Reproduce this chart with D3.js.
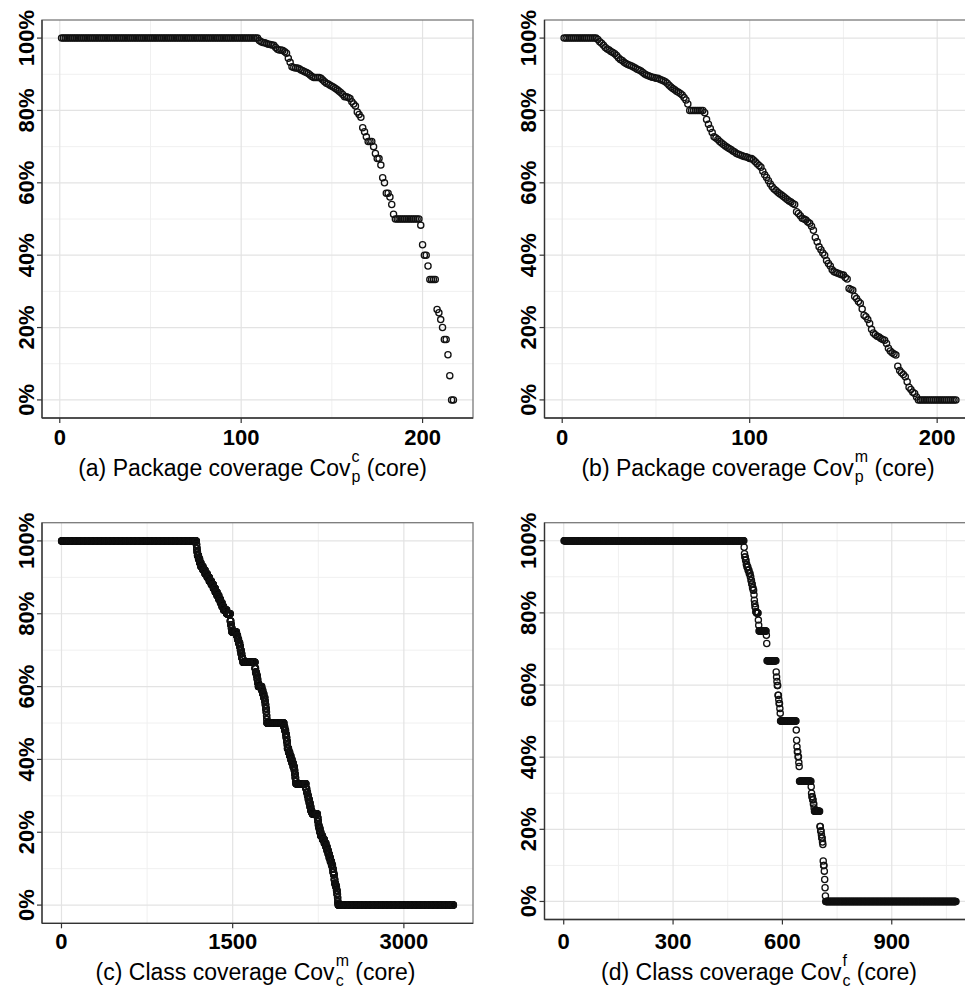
<!DOCTYPE html>
<html>
<head>
<meta charset="utf-8">
<script src="https://cdn.jsdelivr.net/npm/d3@7"></script>
<style>
  body { margin: 0; background: #fff; }
  svg { display: block; font-family: "Liberation Sans", Arial, Helvetica, sans-serif; }
</style>
</head>
<body>
<script>
// coverage values (%), sorted, as [value, number of points]
var covA = [
  [100,109],[99.3,1],[99,1],[98.8,1],[98.7,1],[98.5,1],[98.3,1],[98.2,1],[98.1,1],[98,1],
  [97.4,1],[96.9,1],[96.7,2],[96.6,1],[96.2,1],[95.8,1],[94.4,1],[93.3,1],[92.1,1],[91.9,1],
  [91.7,2],[91.5,1],[91.2,1],[91,1],[90.7,1],[90.5,1],[90.2,1],[89.8,1],[89.4,1],[89.1,4],
  [88.9,1],[88.4,1],[87.9,1],[87.5,1],[87.3,1],[87,1],[86.7,1],[86.4,1],[86.1,1],[85.7,1],
  [85.3,1],[84.9,1],[84.4,1],[83.8,2],[83.6,1],[83.3,1],[82.4,1],[81.8,1],[81.2,1],[79.6,1],
  [78.9,1],[78.1,1],[75.2,1],[74.1,1],[72.7,1],[71.4,3],[70,1],[68.1,1],[66.7,2],[64.9,1],
  [61.4,1],[60,1],[57.1,2],[56.1,1],[54,1],[51.3,1],[50,14],[48.3,1],[42.9,1],[40,2],
  [37,1],[33.3,4],[25,1],[24.1,1],[22.2,1],[20,1],[16.7,2],[12.5,1],[6.7,1],[0,2]
];
var covB = [
  [100,18],[99.6,1],[99,1],[98.6,1],[98,1],[97.4,1],[97,1],[96.7,1],[96.3,1],[96,1],
  [95.7,1],[95.2,1],[94.6,1],[94.1,1],[93.8,1],[93.3,1],[93,1],[92.7,1],[92.5,1],[92.3,1],
  [92,1],[91.7,1],[91.4,1],[91.2,1],[90.9,1],[90.5,1],[90.1,1],[89.8,1],[89.6,1],[89.4,1],
  [89.2,1],[89.1,1],[88.9,2],[88.6,1],[88.4,1],[88.2,1],[87.9,1],[87.5,1],[87,1],[86.5,1],
  [86.1,1],[85.7,1],[85.3,1],[85,1],[84.7,1],[84.3,1],[83.6,1],[82.9,1],[81.8,1],[80,8],
  [79.4,1],[77.5,1],[76.2,1],[75,1],[73.9,1],[72.7,1],[72.4,1],[72,1],[71.4,1],[71,1],
  [70.6,1],[70.2,1],[69.8,1],[69.5,1],[69.2,1],[68.8,1],[68.5,1],[68.1,1],[67.9,1],[67.7,1],
  [67.5,1],[67.3,1],[67.2,1],[67,1],[66.7,2],[66.3,1],[65.8,1],[65.3,1],[64.8,1],[64.3,1],
  [63.2,1],[62.2,1],[61.5,1],[60.6,1],[59.7,1],[58.9,1],[58.3,1],[57.9,1],[57.4,1],[57,1],
  [56.6,1],[56.2,1],[55.8,1],[55.4,1],[55,1],[54.7,1],[54.3,1],[54,1],[52,1],[51.5,1],
  [50.9,1],[50.2,1],[50,1],[49.7,1],[49.2,1],[48.8,1],[48,1],[46.9,1],[44.9,1],[43.7,1],
  [42.3,1],[41.5,1],[40.6,1],[40,1],[38.5,1],[37.7,1],[37,1],[36,1],[35.4,1],[35.2,1],
  [35,1],[34.8,1],[34.6,1],[34.5,1],[33.8,1],[33.4,1],[30.8,1],[30.5,1],[30.3,1],[28.6,1],
  [28,1],[27.2,1],[26.7,1],[25.1,1],[23.4,1],[23,1],[22.2,1],[21.1,1],[19.5,1],[18.5,1],
  [18,1],[17.6,1],[17.4,1],[17,1],[16.7,1],[16.5,1],[15.6,1],[14.3,1],[13.5,1],[13,1],
  [12.7,1],[12.4,1],[9.3,1],[8.1,1],[7.5,1],[7,1],[6.4,1],[5,1],[3.5,1],[2.9,1],
  [2.1,1],[1.8,1],[0.8,1],[0,21]
];
var covC = [
  [100,1181],[99,3],[98,3],[97,4],[96,9],[95,10],[94,11],[93,18],[92,18],[91,19],
  [90,18],[89,18],[88,18],[87,16],[86,16],[85,16],[84,14],[83,14],[82,14],[81,27],
  [80,31],[78,5],[77,5],[76,5],[75,40],[74,9],[73,9],[72,10],[71,6],[70,6],
  [69,6],[68,6],[67.5,5],[66.7,105],[65,5],[64,5],[63.5,4],[63,5],[62,5],[61,5],
  [60,30],[59,9],[58,9],[57,9],[56,4],[55,4],[54,4],[53,3],[52,2],[51,2],
  [50,148],[49,7],[48,8],[47,5],[46,5],[45,4],[44,2],[43,10],[42,10],[41,10],
  [40,10],[39,10],[38,10],[37,4],[36,4],[35,4],[34,3],[33.3,87],[32,7],[31,7],
  [30,7],[29,8],[28,7],[27,7],[26,7],[25.5,7],[25,44],[24,4],[23,4],[22,4],
  [21.5,3],[21,7],[20,8],[19,15],[18,15],[17,14],[16,10],[15,10],[14,9],[13,10],
  [12,10],[11,9],[10,5],[9,5],[8.3,5],[7,5],[6,5],[5.5,5],[5,5],[4,5],
  [3,4],[2,2],[1,2],[0.5,2],[0,1010]
];
var covD = [
  [100,494],[98.2,1],[96.4,1],[95.5,2],[94.6,2],[93.5,2],[92.7,3],[91.8,3],[90.9,3],[90,2],
  [89,2],[88,2],[87,2],[86.3,2],[85,1],[83.5,1],[82.5,1],[81.6,2],[80.3,2],[80,5],
  [78,1],[76.6,1],[75,20],[73.8,1],[71.5,1],[66.7,25],[63.6,1],[62.2,1],[61,1],[59.9,2],
  [57.2,2],[56,1],[54.9,2],[53.5,1],[52.2,1],[50,43],[47.5,1],[44.7,1],[42.9,1],[41.5,2],
  [40.1,2],[38.5,1],[37.4,1],[33.3,32],[31.8,1],[30,1],[29,2],[28.2,2],[27,2],[25.9,1],
  [25,15],[20.8,2],[19.5,2],[18.5,1],[17.6,2],[16.5,1],[15.8,1],[11.2,1],[10,2],[8.4,1],
  [6.1,1],[3.8,1],[1.5,1],[0,358]
];

var yTicks = [0, 20, 40, 60, 80, 100];
var yMinor = [10, 30, 50, 70, 90];
var xTicksA = [0, 100, 200], xMinorA = [50, 150];
var xTicksC = [0, 1500, 3000], xMinorC = [750, 2250];
var xTicksD = [0, 300, 600, 900], xMinorD = [150, 450, 750, 1050];
var titles = [
  ["(a) Package coverage Cov", "c", "p"],
  ["(b) Package coverage Cov", "m", "p"],
  ["(c) Class coverage Cov", "m", "c"],
  ["(d) Class coverage Cov", "f", "c"]
];

var width = 965, height = 990;
var svg = d3.select("body").append("svg")
    .attr("width", width)
    .attr("height", height);
svg.append("rect").attr("width", width).attr("height", height).attr("fill", "#fff");

var panels = [
  {runs: covA, ticks: xTicksA, minor: xMinorA, title: titles[0], left: 42, top: 20, bottom: 418, tickY: 445, titleY: 476, shift: -5},
  {runs: covB, ticks: xTicksA, minor: xMinorA, title: titles[1], left: 544.5, top: 20, bottom: 418, tickY: 445, titleY: 476, shift: -2},
  {runs: covC, ticks: xTicksC, minor: xMinorC, title: titles[2], left: 42, top: 522.7, bottom: 923.3, tickY: 949, titleY: 980, shift: -2},
  {runs: covD, ticks: xTicksD, minor: xMinorD, title: titles[3], left: 544.5, top: 522.7, bottom: 919.5, tickY: 949, titleY: 980, shift: -1}
];
var panelW = 431;

panels.forEach(function(p) {
  // expand runs into ranked points
  var pts = [], k = 0;
  p.runs.forEach(function(r) {
    for (var j = 0; j < r[1]; j++) { k++; pts.push({i: k, v: r[0]}); }
  });
  var n = pts.length, pad = 0.05 * (n - 1);

  var x = d3.scaleLinear().domain([1 - pad, n + pad]).range([p.left, p.left + panelW]);
  var y = d3.scaleLinear().domain([-5, 105]).range([p.bottom, p.top]);
  var g = svg.append("g");

  // grid
  g.selectAll(".ym").data(yMinor).enter().append("line")
      .attr("x1", p.left).attr("x2", p.left + panelW)
      .attr("y1", function(d) { return y(d); }).attr("y2", function(d) { return y(d); })
      .attr("stroke", "#f0f0f0").attr("stroke-width", 1);
  g.selectAll(".xm").data(p.minor).enter().append("line")
      .attr("y1", p.top).attr("y2", p.bottom)
      .attr("x1", function(d) { return x(d); }).attr("x2", function(d) { return x(d); })
      .attr("stroke", "#f0f0f0").attr("stroke-width", 1);
  g.selectAll(".yg").data(yTicks).enter().append("line")
      .attr("x1", p.left).attr("x2", p.left + panelW)
      .attr("y1", function(d) { return y(d); }).attr("y2", function(d) { return y(d); })
      .attr("stroke", "#e3e3e3").attr("stroke-width", 1.2);
  g.selectAll(".xg").data(p.ticks).enter().append("line")
      .attr("y1", p.top).attr("y2", p.bottom)
      .attr("x1", function(d) { return x(d); }).attr("x2", function(d) { return x(d); })
      .attr("stroke", "#e3e3e3").attr("stroke-width", 1.2);

  // points
  g.selectAll("circle").data(pts).enter().append("circle")
      .attr("cx", function(d) { return x(d.i); })
      .attr("cy", function(d) { return y(d.v); })
      .attr("r", 3.1)
      .attr("fill", "none")
      .attr("stroke", "#111")
      .attr("stroke-width", 1.3);

  // border and axis lines
  g.append("rect")
      .attr("x", p.left).attr("y", p.top)
      .attr("width", panelW).attr("height", p.bottom - p.top)
      .attr("fill", "none").attr("stroke", "#7a7a7a").attr("stroke-width", 1.3);
  g.append("line").attr("x1", p.left).attr("x2", p.left)
      .attr("y1", p.top).attr("y2", p.bottom)
      .attr("stroke", "#333").attr("stroke-width", 1.3);
  g.append("line").attr("x1", p.left).attr("x2", p.left + panelW)
      .attr("y1", p.bottom).attr("y2", p.bottom)
      .attr("stroke", "#333").attr("stroke-width", 1.3);

  // x ticks
  g.selectAll(".xt").data(p.ticks).enter().append("line")
      .attr("x1", function(d) { return x(d); }).attr("x2", function(d) { return x(d); })
      .attr("y1", p.bottom).attr("y2", p.bottom + 5)
      .attr("stroke", "#333").attr("stroke-width", 1.2);
  g.selectAll(".xl").data(p.ticks).enter().append("text")
      .attr("x", function(d) { return x(d); })
      .attr("y", p.tickY)
      .attr("text-anchor", "middle")
      .attr("font-size", 22).attr("font-weight", "bold")
      .text(function(d) { return d; });

  // y ticks, labels turned up
  g.selectAll(".yt").data(yTicks).enter().append("line")
      .attr("x1", p.left - 5).attr("x2", p.left)
      .attr("y1", function(d) { return y(d); }).attr("y2", function(d) { return y(d); })
      .attr("stroke", "#333").attr("stroke-width", 1.2);
  g.selectAll(".yl").data(yTicks).enter().append("text")
      .attr("transform", function(d) { return "translate(" + (p.left - 8.5) + "," + y(d) + ") rotate(-90)"; })
      .attr("text-anchor", "middle")
      .attr("font-size", 22).attr("font-weight", "bold")
      .text(function(d) { return d + "%"; });

  // axis title with stacked super/subscript
  var t = g.append("g");
  var main = t.append("text").attr("x", 0).attr("y", 0)
      .attr("font-size", 23).text(p.title[0]);
  var w1 = main.node().getComputedTextLength();
  var sup = t.append("text").attr("x", w1 + 1).attr("y", -14)
      .attr("font-size", 16).text(p.title[1]);
  var sub = t.append("text").attr("x", w1 + 1).attr("y", 6)
      .attr("font-size", 16).text(p.title[2]);
  var w2 = Math.max(sup.node().getComputedTextLength(), sub.node().getComputedTextLength());
  var tail = t.append("text").attr("x", w1 + w2 + 1).attr("y", 0)
      .attr("font-size", 23).text("\u00a0(core)");
  var total = w1 + w2 + 1 + tail.node().getComputedTextLength();
  t.attr("transform", "translate(" + (p.left + panelW / 2 - total / 2 + p.shift) + "," + p.titleY + ")");
});
</script>
</body>
</html>
